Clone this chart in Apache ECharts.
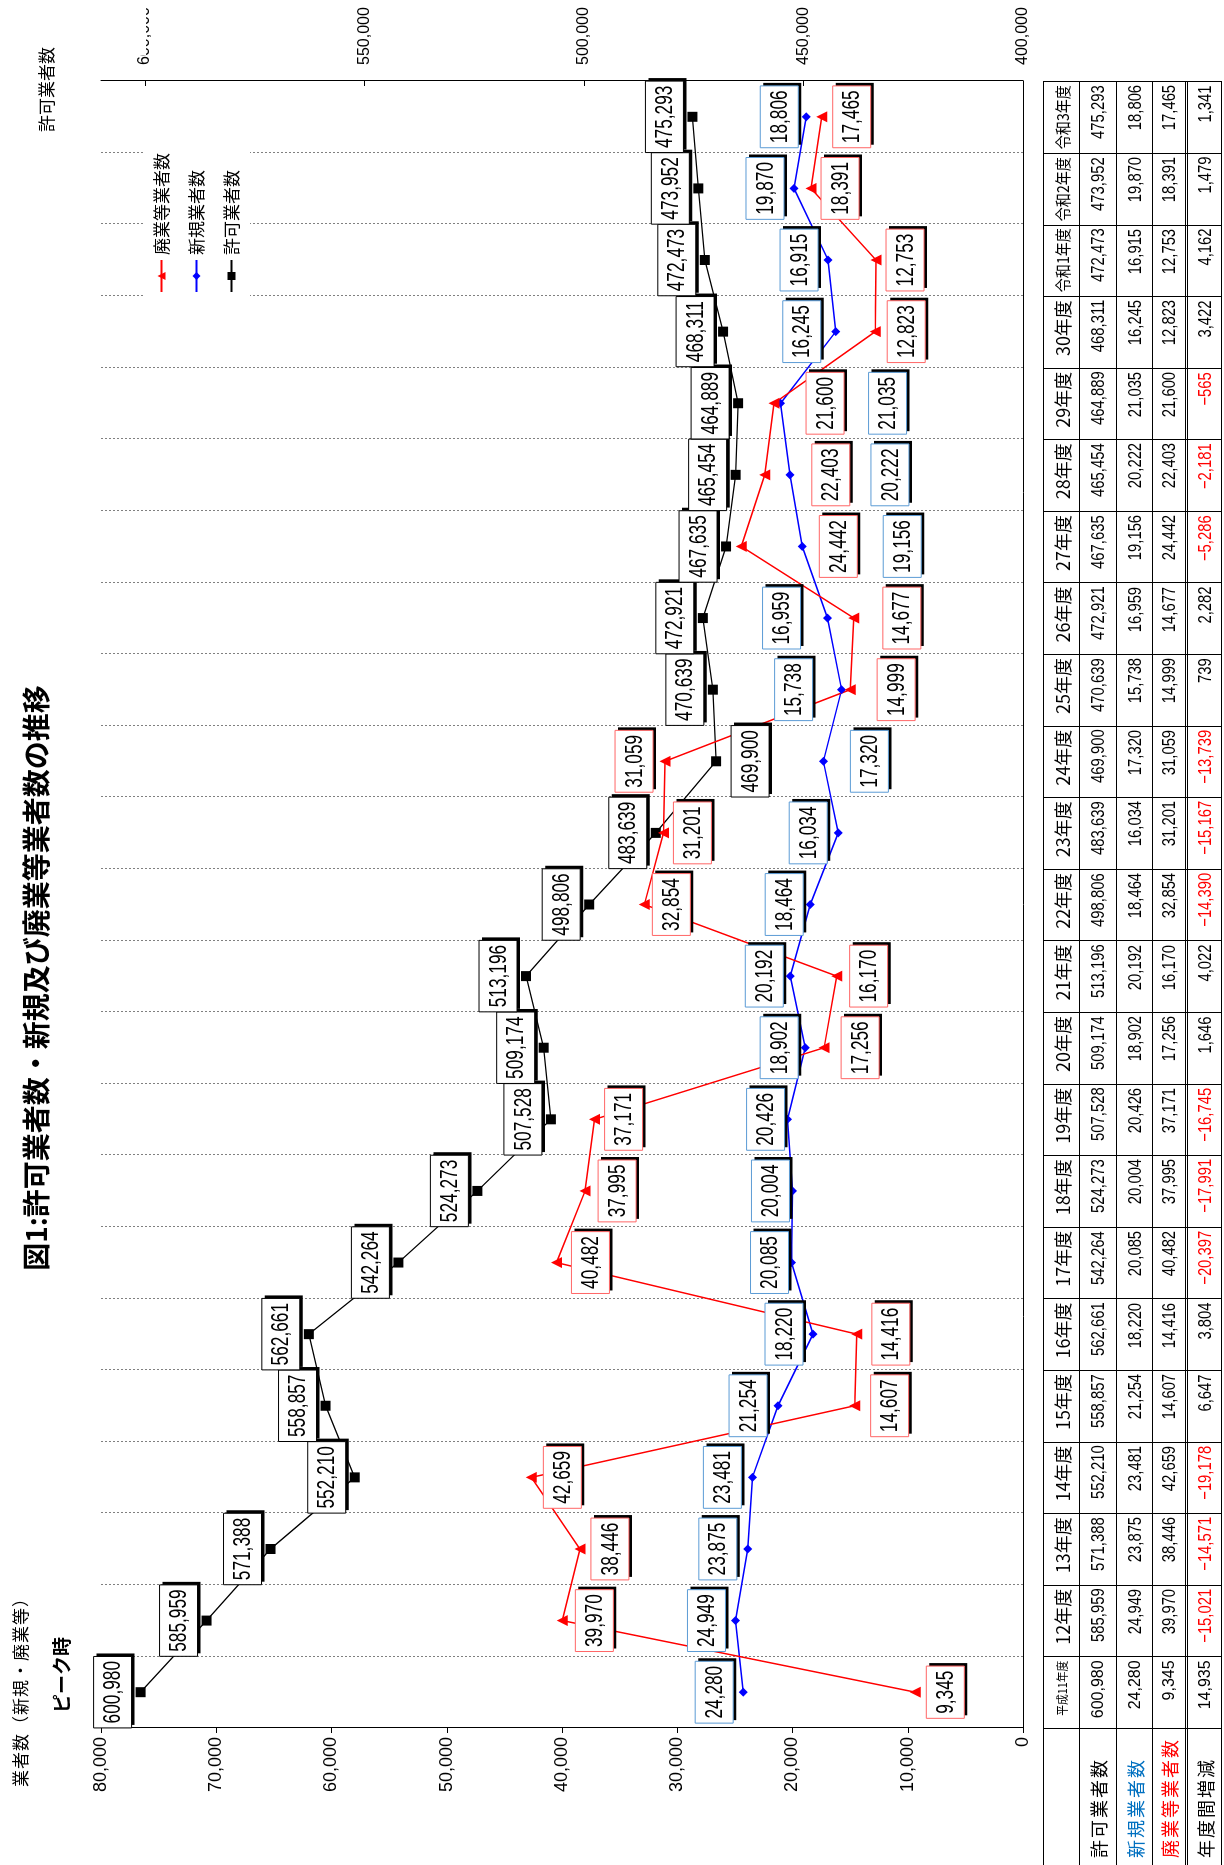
<!DOCTYPE html>
<html lang="ja">
<head>
<meta charset="utf-8">
<title>図1:許可業者数・新規及び廃業等業者数の推移</title>
<script src="https://cdn.jsdelivr.net/npm/echarts@6.0.0/dist/echarts.min.js"></script>
<style>
  html, body { margin:0; padding:0; background:#fff; }
  body { width:1224px; height:1865px; overflow:hidden; position:relative; }
  #wrap { position:absolute; left:0; top:0; width:1865px; height:1224px; transform-origin:0 0;
          transform: translateY(1865px) rotate(-90deg); background:#fff; }
  #chart { position:absolute; left:0; top:0; width:1865px; height:1224px; }
  #yname { position:absolute; left:78px; top:9px; font-family:"Noto Sans CJK JP", sans-serif; font-size:17px;
           letter-spacing:1px; line-height:22px; white-space:nowrap; color:#000; }
  #tbl { position:absolute; left:0; top:1043px; display:grid; border-top:1px solid #000; }
  #tbl .c { box-sizing:border-box; border-right:1px solid #000; border-bottom:1px solid #000;
            display:flex; align-items:center; justify-content:flex-end; padding-right:3px;
            white-space:nowrap; overflow:hidden; color:#000; }
  #tbl .c span { display:inline-block; transform-origin:100% 50%; }
  #tbl .rl { justify-content:flex-start; padding-left:7px; padding-right:0; }
  #tbl .dbl { border-bottom:3px double #000; }
</style>
</head>
<body>
<div id="wrap"><div id="chart"></div><div id="yname"></div><div id="tbl"></div></div>
<script>
// ---------------- data ----------------
const categories = ['平成11年度','12年度','13年度','14年度','15年度','16年度','17年度','18年度','19年度','20年度',
  '21年度','22年度','23年度','24年度','25年度','26年度','27年度','28年度','29年度','30年度','令和1年度','令和2年度','令和3年度'];
const permitCounts = [600980,585959,571388,552210,558857,562661,542264,524273,507528,509174,513196,498806,
  483639,469900,470639,472921,467635,465454,464889,468311,472473,473952,475293];
const newCounts = [24280,24949,23875,23481,21254,18220,20085,20004,20426,18902,20192,18464,
  16034,17320,15738,16959,19156,20222,21035,16245,16915,19870,18806];
const closedCounts = [9345,39970,38446,42659,14607,14416,40482,37995,37171,17256,16170,32854,
  31201,31059,14999,14677,24442,22403,21600,12823,12753,18391,17465];
const yearChange = [14935,-15021,-14571,-19178,6647,3804,-20397,-17991,-16745,1646,4022,-14390,
  -15167,-13739,739,2282,-5286,-2181,-565,3422,4162,1479,1341];
const seriesNames = ['許可業者数','新規業者数','廃業等業者数'];
const rowLabels = ['許可業者数','新規業者数','廃業等業者数','年度間増減'];
const titleText = '図1:許可業者数・新規及び廃業等業者数の推移';
const leftAxisName = '業者数（新規・廃業等）';
const rightAxisName = '許可業者数';
const peakNote = 'ピーク時';

// ---------------- label placement (offset of each label box centre from its point, px) ----------------
const permitLabelDy = [-28,-28,-28,-28,-28,-28,-28,-28,-28,-28,-28,-28,-28,34,-28,-28,-28,-28,-28,-28,-28,-28,-28];
const newLabelDy = [-29,-29,-30,-30,-30,-29,-22,-22,-22,-26,-26,-26,-30,46,-48,-46,100,100,107,-34,-29,-29,-27];
const closedLabelDy = [30,32,30,31,35,34,34,32,29,36,32,27,29,-31,46,48,97,66,51,31,29,29,30];

// ---------------- fonts ----------------
const JP = '"Noto Sans CJK JP", "Noto Sans CJK SC", sans-serif';
const LATIN = '"Liberation Sans", Arial, sans-serif';
const CONDENSE = 0.78;
const LBL_CONDENSE = 0.72;
const fmt = v => (v < 0 ? '\u2212' : '') + Math.abs(v).toLocaleString('en-US');
const measureCtx = document.createElement('canvas').getContext('2d');
function textWidth(t, size){ measureCtx.font = size + 'px "Liberation Sans", Arial, sans-serif'; return measureCtx.measureText(t).width; }

// ---------------- geometry of the (unrotated) chart ----------------
const W = 1865, H = 1224;
const gridLeft = 137, gridRight = 81, gridTop = 101, gridBottom = 201;
const plotW = W - gridLeft - gridRight;
const colW = plotW / categories.length;

// ---------------- chart ----------------
const chart = echarts.init(document.getElementById('chart'), null, {renderer:'canvas', width:W, height:H});

const LBL_SIZE = 24, LBL_H = 38;
function labelRenderer(values, dys, border){
  return function(params, api){
    const i = params.dataIndex;
    const pt = api.coord([api.value(0), api.value(1)]);
    const txt = fmt(values[i]);
    const bw = textWidth(txt, LBL_SIZE) * LBL_CONDENSE + 9;
    const cx = pt[0], cy = pt[1] + dys[i];
    return { type:'group', children:[
      { type:'rect', shape:{x:cx - bw/2 + 3, y:cy - LBL_H/2 + 3, width:bw, height:LBL_H}, style:{fill:'#000'} },
      { type:'rect', shape:{x:cx - bw/2, y:cy - LBL_H/2, width:bw, height:LBL_H}, style:{fill:'#fff', stroke:border, lineWidth:1} },
      { type:'text', x:cx, y:cy + 1, scaleX:LBL_CONDENSE,
        style:{text:txt, fontSize:LBL_SIZE, fontFamily:LATIN, fill:'#000',
               align:'center', verticalAlign:'middle', textAlign:'center', textVerticalAlign:'middle'} }
    ]};
  };
}
const pairs = arr => arr.map((v,i) => [i, v]);

const option = {
  animation:false,
  textStyle:{fontFamily: JP},
  grid:{left:gridLeft, right:gridRight, top:gridTop, bottom:gridBottom, containLabel:false},
  legend:{
    orient:'vertical', left:1562, top:143, padding:[10,10,10,10], backgroundColor:'#fff',
    itemGap:18, itemWidth:32, itemHeight:10,
    data:['廃業等業者数','新規業者数','許可業者数'],
    textStyle:{fontSize:17, color:'#000', fontFamily:JP}
  },
  xAxis:{
    type:'category', data:categories, boundaryGap:true,
    axisLine:{show:true, lineStyle:{color:'#000', width:1}},
    axisTick:{show:false}, axisLabel:{show:false},
    splitLine:{show:true, interval:0, lineStyle:{color:'#808080', width:1, type:[2,2]}}
  },
  yAxis:[
    { type:'value', min:0, max:80000, interval:10000, position:'left',
      axisLine:{show:true, lineStyle:{color:'#000', width:1}},
      axisTick:{show:true, inside:false, length:5, lineStyle:{color:'#000'}},
      axisLabel:{fontSize:18, color:'#000', margin:9, fontFamily:LATIN, formatter: v => fmt(v)},
      splitLine:{show:false} },
    { type:'value', min:400000, max:610000, interval:50000, position:'right',
      axisLine:{show:true, lineStyle:{color:'#000', width:1}},
      axisTick:{show:true, inside:true, length:5, lineStyle:{color:'#000'}},
      axisLabel:{fontSize:16, color:'#000', margin:16, fontFamily:LATIN, showMaxLabel:false, formatter: v => fmt(v)},
      splitLine:{show:false} }
  ],
  series:[
    { name:seriesNames[0], type:'line', yAxisIndex:1, data: permitCounts,
      symbol:'rect', symbolSize:10, itemStyle:{color:'#000'}, lineStyle:{color:'#000', width:1.3}, silent:true, z:3 },
    { name:seriesNames[1], type:'line', yAxisIndex:0, data: newCounts,
      symbol:'diamond', symbolSize:9, itemStyle:{color:'#0000FF'}, lineStyle:{color:'#0000FF', width:1.5}, silent:true, z:3 },
    { name:seriesNames[2], type:'line', yAxisIndex:0, data: closedCounts,
      symbol:'triangle', symbolSize:11, itemStyle:{color:'#FF0000'}, lineStyle:{color:'#FF0000', width:1.5}, silent:true, z:3 },
    { name:'許可業者数ラベル', type:'custom', yAxisIndex:1, data: pairs(permitCounts), silent:true, z:6,
      renderItem: labelRenderer(permitCounts, permitLabelDy, '#000') },
    { name:'新規業者数ラベル', type:'custom', yAxisIndex:0, data: pairs(newCounts), silent:true, z:6,
      renderItem: labelRenderer(newCounts, newLabelDy, '#5B9BD5') },
    { name:'廃業等業者数ラベル', type:'custom', yAxisIndex:0, data: pairs(closedCounts), silent:true, z:6,
      renderItem: labelRenderer(closedCounts, closedLabelDy, '#FF6666') }
  ],
  graphic:[
    { type:'text', x:887, y:36, z:100,
      style:{text:titleText, fontSize:28, fontWeight:'bold', fontFamily:JP, fill:'#000',
             align:'center', verticalAlign:'middle', textAlign:'center', textVerticalAlign:'middle'} },
    { type:'text', x:152, y:62, z:100,
      style:{text:peakNote, fontSize:19, fontWeight:'bold', fontFamily:JP, fill:'#000',
             align:'left', verticalAlign:'middle', textAlign:'left', textVerticalAlign:'middle'} },
    { type:'rect', z:99, shape:{x:1810, y:62, width:55, height:84}, style:{fill:'#fff'} },
    { type:'text', x:1733, y:47, z:100,
      style:{text:rightAxisName, fontSize:17, fontFamily:JP, fill:'#000',
             align:'left', verticalAlign:'middle', textAlign:'left', textVerticalAlign:'middle'} }
  ]
};
chart.setOption(option);
document.getElementById('yname').textContent = leftAxisName;

// ---------------- data table ----------------
const tbl = document.getElementById('tbl');
tbl.style.gridTemplateColumns = '137px repeat(' + categories.length + ', ' + colW + 'px)';
tbl.style.gridTemplateRows = '36px 37px 36px 35px 34px';
const rowColors = ['#000','#0070C0','#FF0000','#000'];
const rowData = [permitCounts, newCounts, closedCounts, yearChange];
function cell(text, cls, css, spanCss){
  const d = document.createElement('div');
  d.className = 'c' + (cls ? ' ' + cls : '');
  const s = document.createElement('span');
  s.textContent = text;
  Object.assign(d.style, css || {});
  Object.assign(s.style, spanCss || {});
  d.appendChild(s);
  tbl.appendChild(d);
}
cell('', '', {});
categories.forEach((c) => {
  const size = c.length >= 6 ? 12 : (c.length === 5 ? 16 : 18);
  const sx = c.length >= 6 ? 'scaleX(0.9)' : (c.length === 5 ? 'scaleX(0.88)' : 'none');
  cell(c, '', {fontFamily: JP, fontSize: size + 'px'}, {transform: sx});
});
rowData.forEach((arr, r) => {
  cell(rowLabels[r], 'rl' + (r === 2 ? ' dbl' : ''),
       {fontFamily: JP, fontSize:'18px', letterSpacing:'2px', color: rowColors[r]});
  arr.forEach((v, i) => {
    cell(fmt(v), r === 2 ? 'dbl' : '', {
      fontFamily: LATIN, fontSize: (i === 0 ? 16 : 19) + 'px',
      color: (r === 3 && v < 0) ? '#FF0000' : '#000'
    }, {transform: i === 0 ? 'none' : 'scaleX(' + CONDENSE + ')'});
  });
});
</script>
</body>
</html>
